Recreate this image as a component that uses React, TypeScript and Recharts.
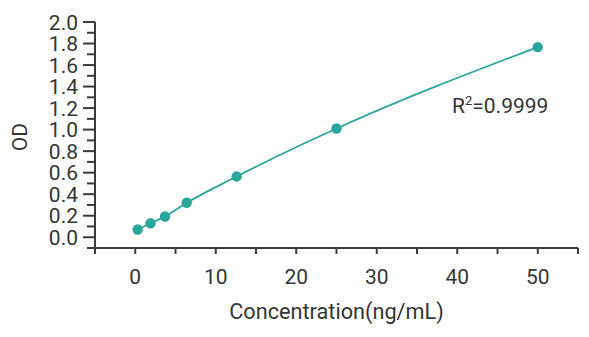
import { ComposedChart, Line, XAxis, YAxis, Customized } from "recharts";

const concentrations = [0.3, 1.9, 3.7, 6.4, 12.6, 25, 50];
const odValues = [0.072, 0.13, 0.193, 0.32, 0.565, 1.01, 1.767];

const xTicks = [-5, 0, 5, 10, 15, 20, 25, 30, 35, 40, 45, 50, 55];
const xLabels = [0, 10, 20, 30, 40, 50];
const yTicks = [-0.1, 0, 0.1, 0.2, 0.3, 0.4, 0.5, 0.6, 0.7, 0.8, 0.9, 1.0, 1.1, 1.2, 1.3, 1.4, 1.5, 1.6, 1.7, 1.8, 1.9, 2.0];
const yLabels = [0, 0.2, 0.4, 0.6, 0.8, 1.0, 1.2, 1.4, 1.6, 1.8, 2.0];

const rSquared = "0.9999";

const data = concentrations.map((c, i) => ({ conc: c, od: odValues[i] }));

const TEAL = "#2aa69c";
const INK = "#353535";
const AXIS = "#3d3a3a";
const FONT = "Roboto, sans-serif";

function XTick({ x, y, payload }: any) {
  const v = payload.value;
  const labelled = xLabels.some((l) => Math.abs(l - v) < 1e-6);
  return (
    <g>
      <line x1={x} x2={x} y1={y} y2={y + 6} stroke={AXIS} strokeWidth={2} />
      {labelled && (
        <text x={x} y={y + 36} textAnchor="middle" fill={INK} fontSize={21} fontFamily={FONT}>
          {v}
        </text>
      )}
    </g>
  );
}

function YTick({ x, y, payload }: any) {
  const v = payload.value;
  const labelled = yLabels.some((l) => Math.abs(l - v) < 1e-6);
  return (
    <g>
      <line x1={x - (labelled ? 12 : 8)} x2={x} y1={y} y2={y} stroke={AXIS} strokeWidth={2} />
      {labelled && (
        <text x={x - 17} y={y} dy="0.36em" textAnchor="end" fill={INK} fontSize={21} fontFamily={FONT}>
          {v.toFixed(1)}
        </text>
      )}
    </g>
  );
}

function RSquaredNote() {
  return (
    <text x={452} y={113} fill={INK} fontSize={21} fontFamily={FONT}>
      R
      <tspan fontSize={13} dy={-8}>2</tspan>
      <tspan dy={8}>={rSquared}</tspan>
    </text>
  );
}

export default function App() {
  return (
    <div style={{ position: "absolute", left: 0, top: 0, background: "#fff" }}>
      <ComposedChart width={589} height={337} data={data} margin={{ top: 22, right: 11, left: 0, bottom: 0 }}>
        <XAxis
          dataKey="conc"
          type="number"
          domain={[-5, 55]}
          ticks={xTicks}
          interval={0}
          height={89}
          tickSize={0}
          tickMargin={0}
          tickLine={false}
          stroke={AXIS}
          strokeWidth={2}
          tick={<XTick />}
          label={{
            value: "Concentration(ng/mL)",
            position: "insideBottom",
            offset: 18,
            fill: INK,
            fontSize: 21.7,
            fontFamily: FONT
          }}
        />
        <YAxis
          dataKey="od"
          type="number"
          domain={[-0.1, 2.0]}
          ticks={yTicks}
          interval={0}
          width={95}
          tickSize={0}
          tickMargin={0}
          tickLine={false}
          stroke={AXIS}
          strokeWidth={2}
          tick={<YTick />}
          label={{
            content: () => (
              <text
                x={19}
                y={137}
                transform="rotate(-90 19 137)"
                textAnchor="middle"
                dy="0.36em"
                fill={INK}
                fontSize={21}
                fontFamily={FONT}
              >
                OD
              </text>
            )
          }}
        />
        <Line
          dataKey="od"
          type="monotone"
          stroke={TEAL}
          strokeWidth={1.8}
          dot={{ r: 5.2, fill: TEAL, stroke: TEAL, strokeWidth: 0 }}
          activeDot={false}
          isAnimationActive={false}
        />
        <Customized component={RSquaredNote} />
      </ComposedChart>
    </div>
  );
}
